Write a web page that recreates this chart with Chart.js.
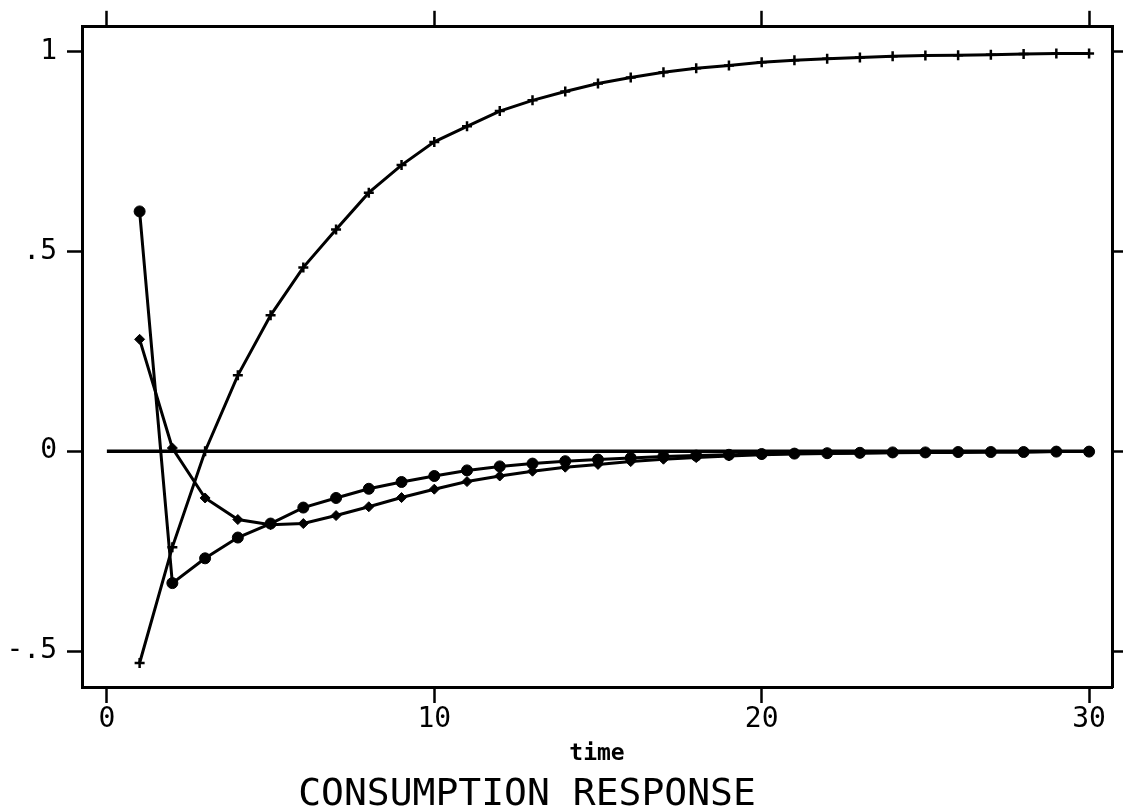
<!DOCTYPE html>
<html lang="en">
<head>
    <meta charset="UTF-8">
    <title>Consumption Response</title>
    <script src="https://cdn.jsdelivr.net/npm/chart.js"></script>
    <style>
        body {
            margin: 0;
            background: #ffffff;
        }
        .chart-container {
            position: relative;
            width: 1123px;
            height: 811px;
        }
    </style>
</head>
<body>
    <div class="chart-container">
        <canvas id="responseChart"></canvas>
    </div>
    <script>
        // periods after the shock
        let periods = [1, 2, 3, 4, 5, 6, 7, 8, 9, 10, 11, 12, 13, 14, 15,
                       16, 17, 18, 19, 20, 21, 22, 23, 24, 25, 26, 27, 28, 29, 30];

        // plus markers: rises towards 1
        let plusSeries = [-0.53, -0.24, 0.00, 0.19, 0.34, 0.46, 0.555, 0.647, 0.716, 0.774,
                          0.813, 0.851, 0.878, 0.900, 0.920, 0.935, 0.948, 0.958, 0.965, 0.973,
                          0.978, 0.982, 0.985, 0.988, 0.990, 0.991, 0.992, 0.994, 0.995, 0.995];

        // round markers: starts at .6, dips and decays to 0
        let circleSeries = [0.60, -0.33, -0.268, -0.216, -0.181, -0.141, -0.117, -0.094, -0.077, -0.062,
                            -0.048, -0.038, -0.031, -0.025, -0.021, -0.017, -0.013, -0.011, -0.009, -0.007,
                            -0.006, -0.005, -0.004, -0.003, -0.003, -0.002, -0.002, -0.002, -0.001, -0.001];

        // diamond markers
        let diamondSeries = [0.28, 0.008, -0.117, -0.171, -0.184, -0.181, -0.161, -0.139, -0.116, -0.095,
                             -0.076, -0.062, -0.050, -0.040, -0.033, -0.026, -0.020, -0.016, -0.012, -0.009,
                             -0.007, -0.006, -0.005, -0.004, -0.003, -0.003, -0.002, -0.002, -0.001, -0.001];

        // zero reference line
        let zeroLineX = [0, 30];
        let zeroLineY = [0, 0];

        let xTicks = [0, 10, 20, 30];
        let yTicks = [-0.5, 0, 0.5, 1];
        let yTickLabels = ['-.5', '0', '.5', '1'];

        let xRange = [-0.76, 30.7];
        let yRange = [-0.59, 1.062];

        function toPoints(xs, ys) {
            return xs.map((x, i) => ({ x: x, y: ys[i] }));
        }

        function fixedTicks(values) {
            return scale => { scale.ticks = values.map(v => ({ value: v })); };
        }

        const ink = '#000000';
        const tickFont = { family: '"DejaVu Sans Mono", monospace', size: 28 };

        // caption lines under the x axis
        const captions = {
            id: 'captions',
            afterDraw(chart) {
                let ctx = chart.ctx;
                let area = chart.chartArea;
                let mid = (area.left + area.right) / 2;
                ctx.save();
                ctx.fillStyle = ink;
                ctx.textAlign = 'center';
                ctx.textBaseline = 'alphabetic';
                ctx.font = 'bold 23px "DejaVu Sans Mono", monospace';
                ctx.fillText('time', mid, area.bottom + 73);
                ctx.font = '38px "DejaVu Sans Mono", monospace';
                ctx.fillText('CONSUMPTION RESPONSE', mid - 70, area.bottom + 118);
                ctx.restore();
            }
        };

        let lineStyle = {
            borderColor: ink,
            backgroundColor: ink,
            borderWidth: 3,
            tension: 0,
            fill: false,
            xAxisID: 'x',
            yAxisID: 'y'
        };

        let ctx = document.getElementById('responseChart').getContext('2d');
        let responseChart = new Chart(ctx, {
            type: 'line',
            data: {
                datasets: [
                    Object.assign({}, lineStyle, {
                        label: 'zero',
                        data: toPoints(zeroLineX, zeroLineY),
                        borderWidth: 3.5,
                        pointRadius: 0
                    }),
                    Object.assign({}, lineStyle, {
                        label: 'plus',
                        data: toPoints(periods, plusSeries),
                        pointStyle: 'cross',
                        pointRadius: 5,
                        pointBorderWidth: 2.5
                    }),
                    Object.assign({}, lineStyle, {
                        label: 'circle',
                        data: toPoints(periods, circleSeries),
                        pointStyle: 'circle',
                        pointRadius: 5.5,
                        pointBorderWidth: 1
                    }),
                    Object.assign({}, lineStyle, {
                        label: 'diamond',
                        data: toPoints(periods, diamondSeries),
                        pointStyle: 'rectRot',
                        pointRadius: 5,
                        pointBorderWidth: 1
                    })
                ]
            },
            options: {
                responsive: true,
                maintainAspectRatio: false,
                animation: false,
                layout: { padding: 0 },
                plugins: {
                    legend: { display: false },
                    tooltip: { enabled: false }
                },
                scales: {
                    x: {
                        type: 'linear',
                        position: 'bottom',
                        min: xRange[0],
                        max: xRange[1],
                        afterBuildTicks: fixedTicks(xTicks),
                        afterFit: s => { s.height = 124; },
                        border: { display: true, color: ink, width: 3 },
                        grid: { drawOnChartArea: false, drawTicks: true, tickLength: 16, tickWidth: 2.5, tickColor: ink },
                        ticks: { color: ink, font: tickFont, padding: 0, maxRotation: 0, autoSkip: false }
                    },
                    xTop: {
                        type: 'linear',
                        position: 'top',
                        min: xRange[0],
                        max: xRange[1],
                        afterBuildTicks: fixedTicks(xTicks),
                        afterFit: s => { s.height = 23; },
                        border: { display: true, color: ink, width: 3 },
                        grid: { drawOnChartArea: false, drawTicks: true, tickLength: 16, tickWidth: 2.5, tickColor: ink },
                        ticks: { display: false }
                    },
                    y: {
                        type: 'linear',
                        position: 'left',
                        min: yRange[0],
                        max: yRange[1],
                        afterBuildTicks: fixedTicks(yTicks),
                        afterFit: s => { s.width = 82; },
                        border: { display: true, color: ink, width: 3 },
                        grid: { drawOnChartArea: false, drawTicks: true, tickLength: 15, tickWidth: 2.5, tickColor: ink },
                        ticks: {
                            color: ink,
                            font: tickFont,
                            padding: 10,
                            autoSkip: false,
                            callback: value => yTickLabels[yTicks.indexOf(value)]
                        }
                    },
                    yRight: {
                        type: 'linear',
                        position: 'right',
                        min: yRange[0],
                        max: yRange[1],
                        afterBuildTicks: fixedTicks(yTicks),
                        afterFit: s => { s.width = 11; },
                        border: { display: true, color: ink, width: 3 },
                        grid: { drawOnChartArea: false, drawTicks: true, tickLength: 11, tickWidth: 2.5, tickColor: ink },
                        ticks: { display: false }
                    }
                }
            },
            plugins: [captions]
        });
    </script>
</body>
</html>
